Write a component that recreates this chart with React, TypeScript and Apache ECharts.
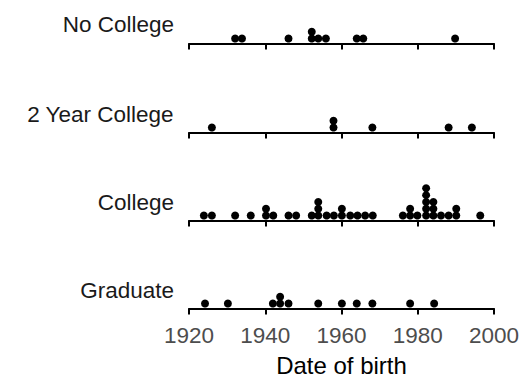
import React, { useEffect, useRef } from "react";
import * as echarts from "echarts";

const categories = ["No College", "2 Year College", "College", "Graduate"];

const noCollege = [1932.1, 1933.9, 1946.1, 1952.2, 1952.2, 1953.9, 1955.9, 1964.0, 1965.7, 1989.8];
const twoYearCollege = [1926.0, 1957.9, 1957.9, 1968.1, 1988.1, 1994.2];
const college = [
  1923.9, 1926.0, 1932.1, 1936.2, 1940.2, 1940.2, 1942.1, 1946.1, 1948.1, 1952.2,
  1953.9, 1953.9, 1953.9, 1956.1, 1958.0, 1960.1, 1960.1, 1962.3, 1964.2, 1966.2,
  1968.2, 1976.1, 1978.0, 1978.0, 1979.9, 1982.2, 1982.2, 1982.2, 1982.2, 1982.2,
  1984.1, 1984.1, 1984.1, 1986.1, 1988.1, 1990.1, 1990.1, 1996.4,
];
const graduate = [1924.2, 1930.2, 1942.0, 1943.9, 1943.9, 1946.1, 1953.9, 1960.1, 1964.0, 1968.1, 1978.0, 1984.3];

const groups = [noCollege, twoYearCollege, college, graduate];
const xTicks = [1920, 1940, 1960, 1980, 2000];

function stackPoints(values: number[]): number[][] {
  const counts = new Map<number, number>();
  return values.map((v) => {
    const c = counts.get(v) || 0;
    counts.set(v, c + 1);
    return [v, c];
  });
}

export default function App() {
  const ref = useRef<HTMLDivElement>(null);
  useEffect(() => {
    if (!ref.current) return;
    const chart = echarts.init(ref.current, null, { renderer: "svg" });
    const font = "'Liberation Sans', Arial, sans-serif";
    const axisYs = [43.5, 132.5, 220.5, 308.5];
    const labelYs = [25, 115, 203, 291];
    const H = 40;
    const step = 6.8;
    const yMin = -0.73;
    const yMax = H / step + yMin;

    const grids = axisYs.map((y) => ({ left: 189, width: 305, top: y - H, height: H }));
    const xAxes = axisYs.map((_, i) => ({
      type: "value",
      gridIndex: i,
      min: xTicks[0],
      max: xTicks[xTicks.length - 1],
      interval: 20,
      axisLine: { show: true, onZero: false, lineStyle: { color: "#000", width: 2 } },
      axisTick: { show: true, length: 6, lineStyle: { color: "#000", width: 2 } },
      axisLabel: {
        show: i === 3,
        fontSize: 22.5,
        color: "#4d4d4d",
        fontFamily: font,
        margin: 15,
        formatter: (v: number) => String(v),
      },
      splitLine: { show: false },
      name: i === 3 ? "Date of birth" : "",
      nameLocation: "middle",
      nameGap: 45,
      nameTextStyle: { fontSize: 24, color: "#000", fontFamily: font },
    }));
    const yAxes = axisYs.map((_, i) => ({
      type: "value",
      gridIndex: i,
      min: yMin,
      max: yMax,
      show: false,
    }));
    const series = groups.map((g, i) => ({
      type: "scatter",
      xAxisIndex: i,
      yAxisIndex: i,
      symbolSize: 8,
      itemStyle: { color: "#000", opacity: 1 },
      data: stackPoints(g),
    }));
    const graphic = categories.map((c, i) => ({
      type: "text",
      right: 528 - 174,
      top: labelYs[i] - 12,
      style: { text: c, fontSize: 22.5, fill: "#1a1a1a", fontFamily: font },
    }));

    chart.setOption({
      animation: false,
      grid: grids,
      xAxis: xAxes,
      yAxis: yAxes,
      series,
      graphic,
    });
    return () => chart.dispose();
  }, []);
  return (
    <div
      ref={ref}
      style={{ position: "fixed", left: 0, top: 0, width: 528, height: 384, background: "#fff" }}
    />
  );
}
